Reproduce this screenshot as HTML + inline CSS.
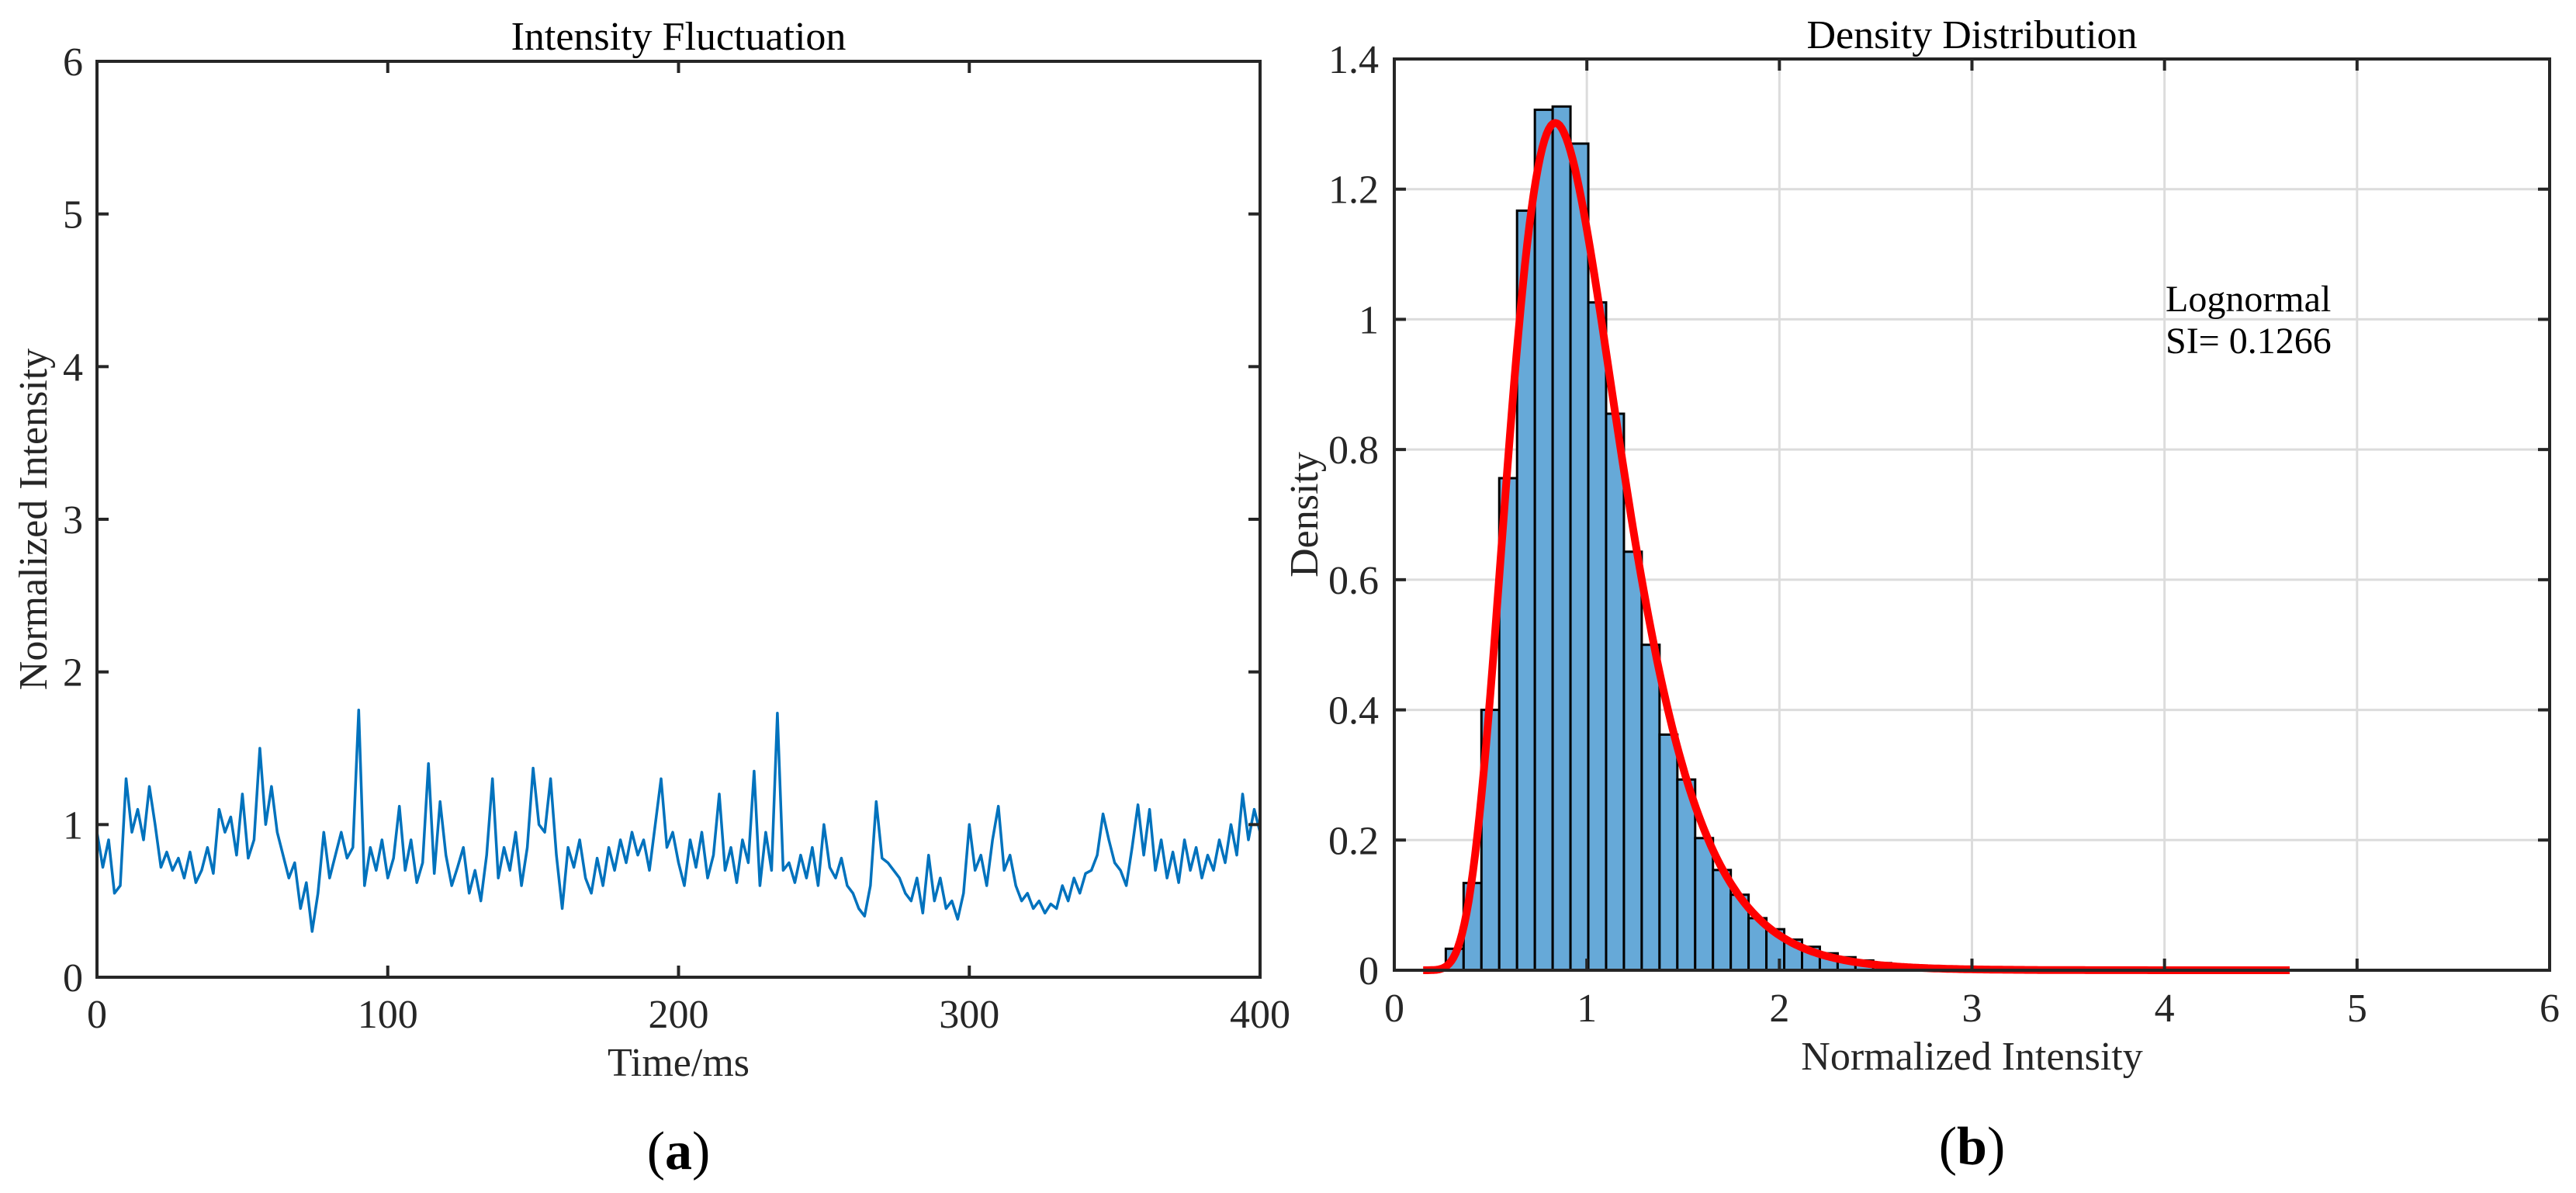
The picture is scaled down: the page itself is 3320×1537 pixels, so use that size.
<!DOCTYPE html>
<html><head><meta charset="utf-8"><style>
html,body{margin:0;padding:0;background:#fff;}
svg{display:block;font-family:"Liberation Serif",serif;}
</style></head><body>
<svg id="fig" width="3320" height="1537" viewBox="0 0 3320 1537" xmlns="http://www.w3.org/2000/svg">
<g id="left"></g>
<g id="right"></g>
</svg>
<script>
// ---- Left chart data ----
const timeStep = 2;
const intensity = [0.95,0.72,0.9,0.55,0.6,1.3,0.95,1.1,0.9,1.25,1.0,0.72,0.82,0.7,0.78,0.65,0.82,0.62,0.7,0.85,0.68,1.1,0.95,1.05,0.8,1.2,0.78,0.9,1.5,1.0,1.25,0.95,0.8,0.65,0.75,0.45,0.62,0.3,0.55,0.95,0.65,0.8,0.95,0.78,0.85,1.75,0.6,0.85,0.7,0.9,0.65,0.78,1.12,0.7,0.9,0.62,0.75,1.4,0.68,1.15,0.8,0.6,0.72,0.85,0.55,0.7,0.5,0.8,1.3,0.65,0.85,0.7,0.95,0.6,0.85,1.37,1.0,0.95,1.3,0.8,0.45,0.85,0.72,0.9,0.65,0.55,0.78,0.6,0.85,0.7,0.9,0.75,0.95,0.8,0.9,0.7,1.0,1.3,0.85,0.95,0.75,0.6,0.9,0.72,0.95,0.65,0.8,1.2,0.7,0.85,0.62,0.9,0.75,1.35,0.6,0.95,0.7,1.73,0.7,0.75,0.62,0.8,0.65,0.85,0.6,1.0,0.72,0.65,0.78,0.6,0.55,0.45,0.4,0.6,1.15,0.78,0.75,0.7,0.65,0.55,0.5,0.65,0.42,0.8,0.5,0.65,0.45,0.5,0.38,0.55,1.0,0.7,0.8,0.6,0.9,1.12,0.7,0.8,0.6,0.5,0.55,0.45,0.5,0.42,0.48,0.45,0.6,0.5,0.65,0.55,0.68,0.7,0.8,1.07,0.9,0.75,0.7,0.6,0.85,1.13,0.8,1.1,0.7,0.9,0.65,0.82,0.62,0.9,0.7,0.85,0.65,0.8,0.7,0.9,0.75,1.0,0.8,1.2,0.9,1.1,0.95];
const leftXTicks = [0,100,200,300,400];
const leftYTicks = [0,1,2,3,4,5,6];
// ---- Right chart data ----
const binStart = 0.175;
const binWidth = 0.0925;
const densities = [0.003,0.033,0.134,0.40,0.756,1.167,1.322,1.327,1.27,1.026,0.855,0.643,0.50,0.362,0.293,0.203,0.154,0.116,0.08,0.063,0.047,0.036,0.026,0.02,0.015,0.011,0.008,0.006,0.005,0.004,0.003,0.003,0.002,0.002,0.002,0.001,0.001,0.001,0.001,0.001,0.001,0.001,0.001,0.001,0.001,0.001,0.001,0.001];
const fitSI = [0.1266];
const fitRange = [0.15,4.65];
const rightXTicks = [0,1,2,3,4,5,6];
const rightYTicks = [0,0.2,0.4,0.6,0.8,1,1.2,1.4];
const rightYLabels = ["0","0.2","0.4","0.6","0.8","1","1.2","1.4"];

const NS="http://www.w3.org/2000/svg";
const FS=52;
function mk(parent,tag,attrs,text){const e=document.createElementNS(NS,tag);for(const k in attrs)e.setAttribute(k,attrs[k]);if(text!==undefined)e.textContent=text;parent.appendChild(e);return e;}

// ---- Left panel ----
const L=document.getElementById('left');
const lx0=125,lx1=1624,ly0=1259,ly1=79;
const lsx=v=>lx0+(v-0)/(400-0)*(lx1-lx0);
const lsy=v=>ly0-(v-0)/(6-0)*(ly0-ly1);
let pts=intensity.map((v,i)=>lsx(i*timeStep).toFixed(1)+','+lsy(v).toFixed(1)).join(' ');
let line=mk(L,'polyline',{points:pts,fill:'none',stroke:'#0072BD','stroke-width':3.5,'stroke-linejoin':'round'});


leftXTicks.forEach(t=>{const x=lsx(t);
 mk(L,'line',{x1:x,x2:x,y1:ly0,y2:ly0-15,stroke:'#262626','stroke-width':4});
 mk(L,'line',{x1:x,x2:x,y1:ly1,y2:ly1+15,stroke:'#262626','stroke-width':4});
 const tx=mk(L,'text',{x:x,y:1324,'font-size':FS,'text-anchor':'middle',fill:'#262626'},String(t));
 
 
});
leftYTicks.forEach(t=>{const y=lsy(t);
 mk(L,'line',{x1:lx0,x2:lx0+15,y1:y,y2:y,stroke:'#262626','stroke-width':4});
 mk(L,'line',{x1:lx1,x2:lx1-15,y1:y,y2:y,stroke:'#262626','stroke-width':4});
 const tx=mk(L,'text',{x:107,y:y+18,'font-size':FS,'text-anchor':'end',fill:'#262626'},String(t));
 
 
});
let fr=mk(L,'rect',{x:lx0,y:ly1,width:lx1-lx0,height:ly0-ly1,fill:'none',stroke:'#262626','stroke-width':4});

let t1=mk(L,'text',{x:(lx0+lx1)/2,y:64,'font-size':FS,'text-anchor':'middle',fill:'#000'},'Intensity Fluctuation');

let xl=mk(L,'text',{x:(lx0+lx1)/2,y:1386,'font-size':FS,'text-anchor':'middle',fill:'#262626'},'Time/ms');

let yl=mk(L,'text',{x:0,y:0,'font-size':FS,'text-anchor':'middle',fill:'#262626',transform:`translate(60,${(ly0+ly1)/2}) rotate(-90)`},'Normalized Intensity');

let pa=mk(L,'text',{x:(lx0+lx1)/2,y:1506,'font-size':70,'text-anchor':'middle',fill:'#000'});
mk(pa,'tspan',{},'(');mk(pa,'tspan',{'font-weight':'bold'},'a');mk(pa,'tspan',{},')');


// ---- Right panel ----
const R=document.getElementById('right');
const rx0=1797,rx1=3286,ry0=1250,ry1=76;
const rsx=v=>rx0+v/6*(rx1-rx0);
const rsy=v=>ry0-v/1.4*(ry0-ry1);
rightXTicks.forEach(t=>{if(t>0&&t<6)mk(R,'line',{x1:rsx(t),x2:rsx(t),y1:ry0,y2:ry1,stroke:'#dcdcdc','stroke-width':3});});
rightYTicks.forEach(t=>{if(t>0&&t<1.4)mk(R,'line',{x1:rx0,x2:rx1,y1:rsy(t),y2:rsy(t),stroke:'#dcdcdc','stroke-width':3});});
densities.forEach((d,i)=>{const a=binStart+i*binWidth;const x=rsx(a),w=rsx(a+binWidth)-x;
 const r=mk(R,'rect',{x:x,y:rsy(d),width:w,height:ry0-rsy(d),fill:'#66A9D8',stroke:'#000','stroke-width':3});
 
 
});
const sig2=Math.log(1+fitSI[0]),sig=Math.sqrt(sig2),mu=-sig2/2;
let cp=[];for(let k=0;k<=400;k++){const x=fitRange[0]+(fitRange[1]-fitRange[0])*k/400;
 const p=Math.exp(-Math.pow(Math.log(x)-mu,2)/(2*sig2))/(x*sig*Math.sqrt(2*Math.PI));cp.push(rsx(x).toFixed(1)+','+rsy(p).toFixed(1));}
let curve=mk(R,'polyline',{points:cp.join(' '),fill:'none',stroke:'#FF0000','stroke-width':10,'stroke-linejoin':'round'});


rightXTicks.forEach(t=>{const x=rsx(t);
 mk(R,'line',{x1:x,x2:x,y1:ry0,y2:ry0-15,stroke:'#262626','stroke-width':4});
 mk(R,'line',{x1:x,x2:x,y1:ry1,y2:ry1+15,stroke:'#262626','stroke-width':4});
 const tx=mk(R,'text',{x:x,y:1316,'font-size':FS,'text-anchor':'middle',fill:'#262626'},String(t));
 
 
});
rightYTicks.forEach((t,i)=>{const y=rsy(t);
 mk(R,'line',{x1:rx0,x2:rx0+15,y1:y,y2:y,stroke:'#262626','stroke-width':4});
 mk(R,'line',{x1:rx1,x2:rx1-15,y1:y,y2:y,stroke:'#262626','stroke-width':4});
 const tx=mk(R,'text',{x:1777,y:y+18,'font-size':FS,'text-anchor':'end',fill:'#262626'},rightYLabels[i]);
 
 
});
let fr2=mk(R,'rect',{x:rx0,y:ry1,width:rx1-rx0,height:ry0-ry1,fill:'none',stroke:'#262626','stroke-width':4});

let t2=mk(R,'text',{x:(rx0+rx1)/2,y:62,'font-size':FS,'text-anchor':'middle',fill:'#000'},'Density Distribution');

let xl2=mk(R,'text',{x:(rx0+rx1)/2,y:1378,'font-size':FS,'text-anchor':'middle',fill:'#262626'},'Normalized Intensity');

let yl2=mk(R,'text',{x:0,y:0,'font-size':FS,'text-anchor':'middle',fill:'#262626',transform:`translate(1698,${(ry0+ry1)/2}) rotate(-90)`},'Density');

let a1=mk(R,'text',{x:2791,y:401,'font-size':48,fill:'#000'},'Lognormal');

let a2=mk(R,'text',{x:2791,y:455,'font-size':48,fill:'#000'},'SI= '+fitSI[0].toFixed(4));

let pb=mk(R,'text',{x:(rx0+rx1)/2,y:1500,'font-size':70,'text-anchor':'middle',fill:'#000'});
mk(pb,'tspan',{},'(');mk(pb,'tspan',{'font-weight':'bold'},'b');mk(pb,'tspan',{},')');

</script>
</body></html>
